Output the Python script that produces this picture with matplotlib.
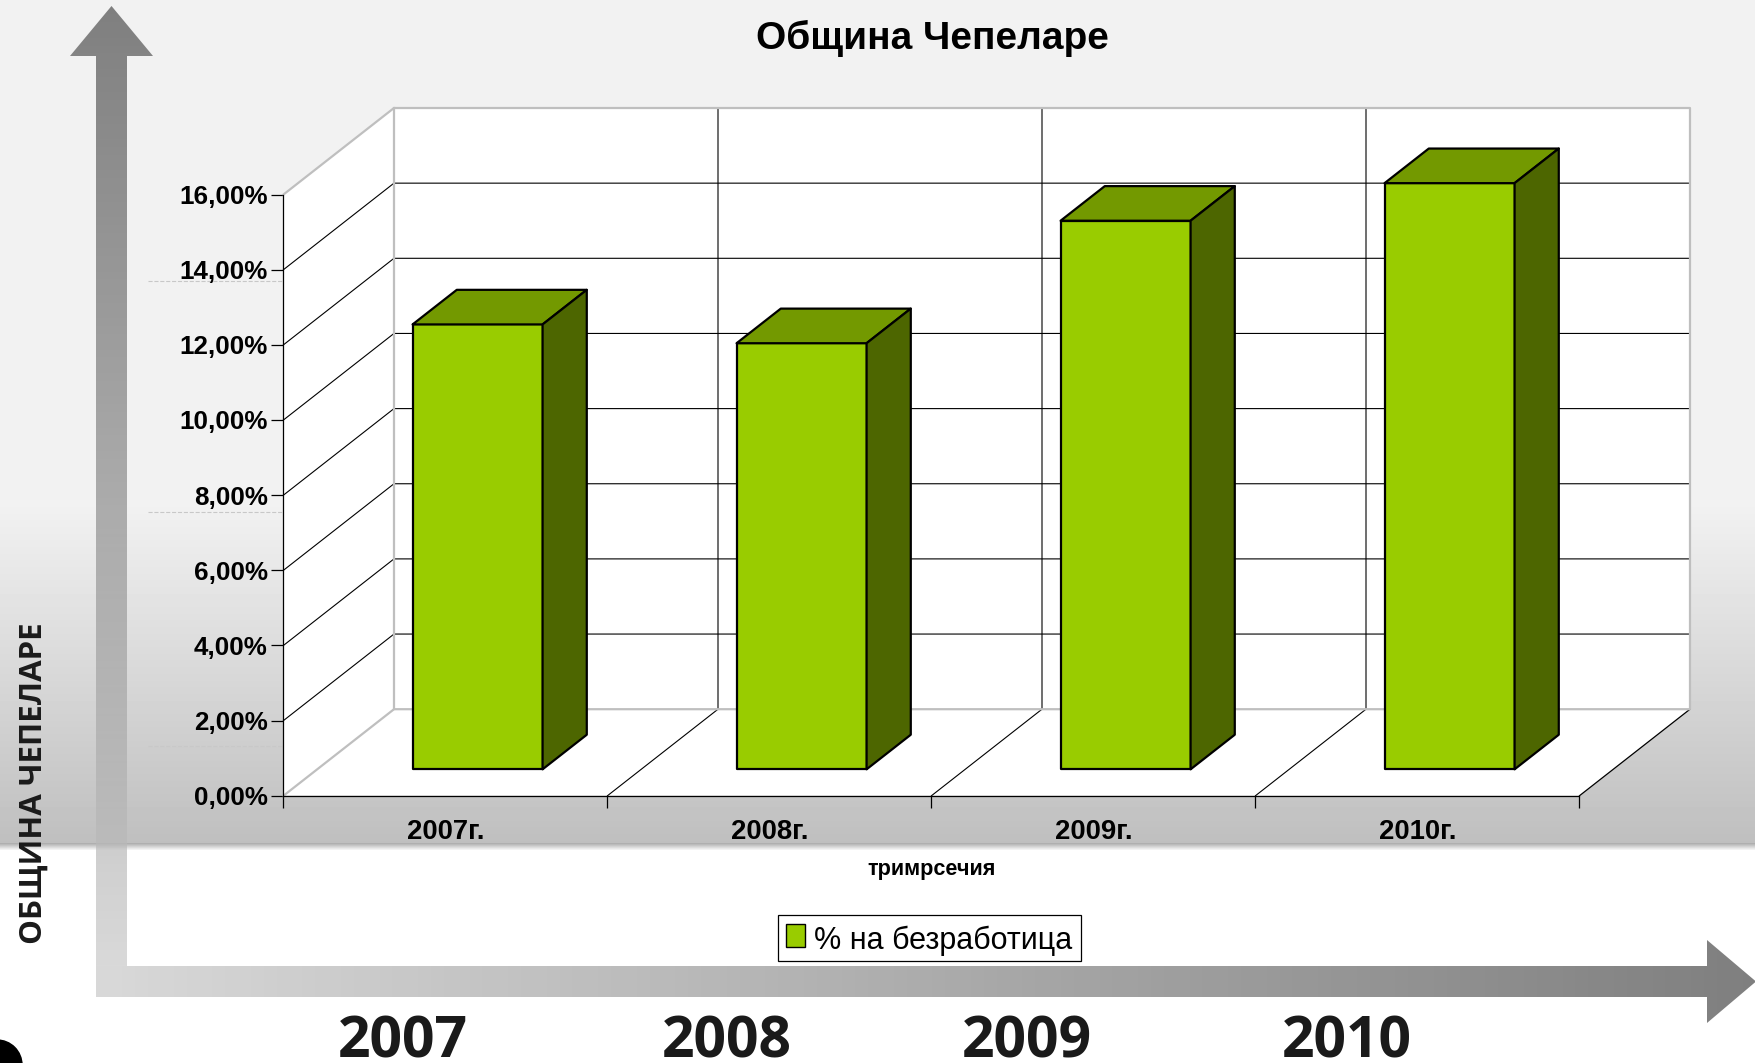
import numpy as np
import matplotlib
matplotlib.use('Agg')
import matplotlib.pyplot as plt
from matplotlib.patches import Polygon, Patch, Circle

W, H = 1756, 1063

# data
categories = ['2007г.', '2008г.', '2009г.', '2010г.']
values = [11.84, 11.34, 14.6, 15.6]
y_ticks = [0, 2, 4, 6, 8, 10, 12, 14, 16]
y_labels = ['0,00%', '2,00%', '4,00%', '6,00%', '8,00%', '10,00%', '12,00%', '14,00%', '16,00%']
big_years = ['2007', '2008', '2009', '2010']
big_year_x = [403, 727, 1027, 1347]
dash_y = [281, 512, 746]

title = 'Община Чепеларе'
x_title = 'тримрсечия'
side_title = 'ОБЩИНА ЧЕПЕЛАРЕ'
legend_label = '% на безработица'

plt.rcParams['font.family'] = ['Liberation Sans', 'DejaVu Sans']

# plot box of the front plane, in pixels
left, right, top, bottom = 283.5, 1579.5, 194.5, 795.7

# 3d look: how far the back wall is shifted, in data units
depth_x = 110.5 / 324
depth_y = 86.5 / 37.575
bar_w = 130 / 324
bar_front = 0.305  # depth where the front of the bar sits
bar_depth = 0.4
bar_nudge = -0.005


def back(x, y, d=1.0):
    return (x + depth_x * d, y + depth_y * d)


fig = plt.figure(figsize=(W / 100, H / 100), dpi=100, facecolor='white')

# page background and the big arrows, drawn in pixels
bg = fig.add_axes([0, 0, 1, 1])
bg.set_xlim(0, W)
bg.set_ylim(H, 0)
bg.axis('off')

ys = np.arange(0, 851)
shade = np.interp(ys, [0, 500, 842, 843, 850], [242, 242, 191, 175, 255])
bg.imshow(np.repeat(shade[:, None], 2, axis=1), cmap='gray', vmin=0, vmax=255,
          extent=[0, W, 851, 0], aspect='auto', zorder=0)

up_arrow = [(96, 966), (96, 56), (70, 56), (111.5, 6), (153, 56), (127, 56), (127, 966)]
right_arrow = [(96, 966), (1707, 966), (1707, 940), (1756, 981.5), (1707, 1023), (1707, 997), (96, 997)]

grad_up = np.interp(np.arange(6, 967), [6, 966], [78, 201]) / 255
rgba_up = np.zeros((len(grad_up), 1, 4))
rgba_up[:, :, :3] = grad_up[:, None, None]
rgba_up[:, :, 3] = 0.7
im = bg.imshow(rgba_up, extent=[70, 153, 966, 6], aspect='auto', zorder=1)
im.set_clip_path(Polygon(up_arrow, transform=bg.transData))

grad_right = np.interp(np.arange(96, 1757), [96, 1756], [201, 72]) / 255
rgba_right = np.zeros((1, len(grad_right), 4))
rgba_right[:, :, :3] = grad_right[None, :, None]
rgba_right[:, :, 3] = 0.7
im = bg.imshow(rgba_right, extent=[96, 1756, 1023, 940], aspect='auto', zorder=1)
im.set_clip_path(Polygon(right_arrow, transform=bg.transData))

bg.set_xlim(0, W)
bg.set_ylim(H, 0)

bg.add_patch(Circle((-3, 1065), 25, color='black', zorder=1))
for y in dash_y:
    bg.plot([148, 283], [y, y], color='#c8c8c8', lw=0.8, ls='--', zorder=1)

bg.text(42, 944, side_title, rotation=90, ha='left', va='baseline', fontsize=22.5,
        fontweight='bold', color='#1a1a1a', family='Open Sans', zorder=3, rotation_mode='anchor')
for name, x in zip(big_years, big_year_x):
    bg.text(x, 1058, name, ha='center', va='baseline', fontsize=41, color='#1a1a1a',
            fontweight='bold', family='Open Sans', zorder=3)

# the chart itself
ax = fig.add_axes([left / W, 1 - bottom / H, (right - left) / W, (bottom - top) / H])
ax.patch.set_visible(False)
ax.set_xlim(0, len(categories))
ax.set_ylim(0, 16)

grey = '#bfbfbf'
n = len(categories)

# walls and floor
wall = dict(facecolor='white', edgecolor='none', clip_on=False, zorder=1)
ax.add_patch(Polygon([(0, 0), (0, 16), back(0, 16), back(0, 0)], **wall))
ax.add_patch(Polygon([back(0, 0), back(0, 16), back(n, 16), back(n, 0)], **wall))
ax.add_patch(Polygon([(0, 0), (n, 0), back(n, 0), back(0, 0)], **wall))

# grid on the walls
for v in y_ticks[1:-1]:
    ax.plot(*zip((0, v), back(0, v), back(n, v)), color='black', lw=0.8, clip_on=False, zorder=2)
for k in range(1, n):
    ax.plot(*zip(back(k, 16), back(k, 0), (k, 0)), color='black', lw=0.8, clip_on=False, zorder=2)
ax.plot(*zip((n, 0), back(n, 0)), color='black', lw=0.9, clip_on=False, zorder=2)
ax.plot(*zip((0, 16), back(0, 16), back(n, 16), back(n, 0), back(0, 0), (0, 0)),
        color=grey, lw=1.6, clip_on=False, zorder=2)
ax.plot(*zip(back(0, 16), back(0, 0)), color=grey, lw=1.6, clip_on=False, zorder=2)

# bars: front, top and side faces
for i, val in enumerate(values):
    x0 = i + (1 - bar_w) / 2 + bar_nudge
    x1 = x0 + bar_w
    a, b = back(x0, 0, bar_front), back(x1, 0, bar_front)
    c, d = back(x1, val, bar_front), back(x0, val, bar_front)
    f2 = bar_front + bar_depth
    edge = dict(edgecolor='black', lw=1.6, clip_on=False, zorder=3, joinstyle='round')
    ax.add_patch(Polygon([a, b, c, d], facecolor='#99CC00', **edge))
    ax.add_patch(Polygon([d, c, back(x1, val, f2), back(x0, val, f2)], facecolor='#739900', **edge))
    ax.add_patch(Polygon([b, back(x1, 0, f2), back(x1, val, f2), c], facecolor='#4D6600', **edge))

for side in ['top', 'right']:
    ax.spines[side].set_visible(False)
for side in ['left', 'bottom']:
    ax.spines[side].set_linewidth(0.9)
    ax.spines[side].set_zorder(4)

ax.set_yticks(y_ticks)
ax.set_yticklabels(y_labels, fontsize=18.7, fontweight='bold')
ax.set_xticks(range(n + 1))
ax.set_xticklabels([])
ax.set_xticks(np.arange(n) + 0.5, minor=True)
ax.set_xticklabels(categories, minor=True, fontsize=19.8, fontweight='bold')
ax.tick_params(axis='y', length=8.3, width=0.9, pad=3)
ax.tick_params(axis='x', which='major', length=8.3, width=0.9)
ax.tick_params(axis='x', which='minor', length=0, pad=16.7)
ax.set_xlabel(x_title, fontsize=15.6, fontweight='bold', labelpad=10.3)
ax.set_title(title, fontsize=28, fontweight='bold', pad=105)
ax.title.set_x(0.5008)

leg = ax.legend(handles=[Patch(facecolor='#99CC00', edgecolor='black', label=legend_label)],
                loc='center', bbox_to_anchor=(929.5 / W, 1 - 938 / H), bbox_transform=fig.transFigure,
                fontsize=22, fancybox=False, framealpha=1, edgecolor='black',
                handlelength=0.62, handleheight=0.75, handletextpad=0.3, borderpad=0.27, borderaxespad=0)
leg.get_frame().set_linewidth(0.9)
leg.get_texts()[0].set_position((0, -2.5))

fig.savefig('out.png', dpi=100)
